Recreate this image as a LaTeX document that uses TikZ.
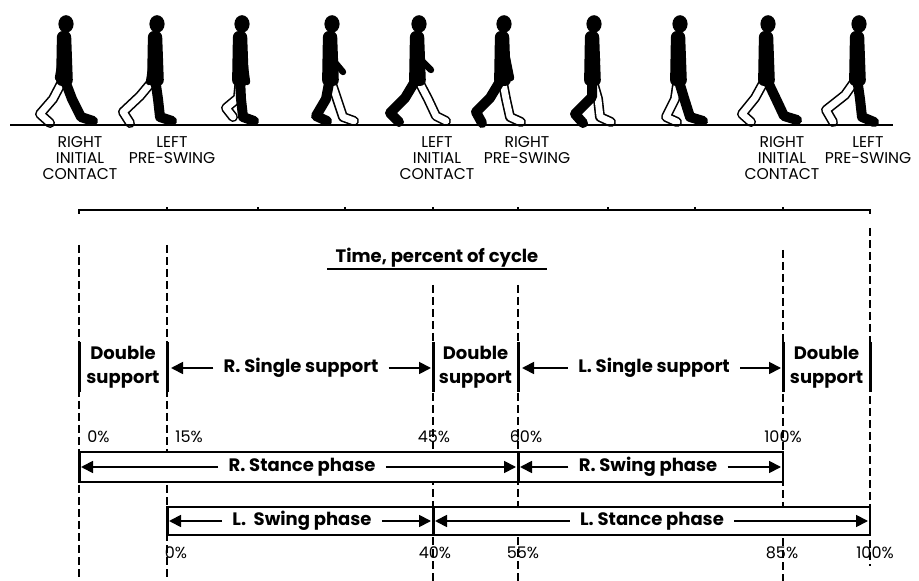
\documentclass[tikz,border=0pt]{standalone}
\usepackage{fontspec}
\setmainfont{Poppins}
\usetikzlibrary{arrows.meta}

\tikzset{
  leg/.style={line width=5pt, line cap=round, line join=round},
  vline/.style={dash pattern=on 4pt off 2pt, line width=0.7pt},
  wall/.style={line width=1.5pt},
  box/.style={draw, line width=0.9pt, fill=white},
  arr/.style={line width=0.9pt, -{Triangle[length=6pt,width=6pt]}},
  phase/.style={font=\bfseries\fontsize{9}{10}\selectfont, inner xsep=5pt, inner ysep=1pt},
  dsup/.style={font=\bfseries\fontsize{9}{12}\selectfont, align=center, inner sep=0pt},
  pct/.style={font=\fontsize{8}{9}\selectfont, inner sep=0pt},
  evt/.style={font=\fontsize{7.8}{8}\selectfont, align=center, anchor=north, inner sep=0pt}
}

% one walking figure: hip x, dark leg, light leg, arm
\newcommand\walker[4]{%
  \draw[leg] (#1,78) -- #3;
  \draw[leg, white, line width=3.4pt] (#1,78) -- #3;
  \fill (#1+2,24) ellipse [x radius=3.8pt, y radius=4.4pt];
  \fill[rounded corners=3pt] (#1-7,31) -- (#1+7,31) -- (#1+9,86) -- (#1-8,86) -- cycle;
  \draw[leg] (#1,78) -- #2;
  \draw[leg, line width=3.2pt] (#1+1,38) -- #4;
}

\begin{document}
\begin{tikzpicture}[x=0.5pt, y=-0.5pt]
  \fill[white] (0,0) rectangle (919,581);
  \useasboundingbox (0,0) rectangle (919,581);

  % walkers
  \walker{64}{(72,99) -- (81,117) -- (93,121)}{(53,99) -- (40,114) -- (50,123)}{(58,78)}
  \walker{155}{(158,99) -- (160,117) -- (172,121)}{(140,96) -- (123,112) -- (130,123)}{(149,82)}
  \walker{240}{(241,99) -- (243,117) -- (254,121)}{(238,98) -- (226,108) -- (233,117)}{(247,82)}
  \walker{330}{(326,99) -- (316,116) -- (327,121)}{(337,99) -- (343,117) -- (354,121)}{(333,60) -- (343,72)}
  \walker{417}{(405,98) -- (390,113) -- (399,122)}{(428,99) -- (436,116) -- (446,121)}{(421,60) -- (431,70)}
  \walker{502}{(490,98) -- (476,112) -- (482,123)}{(506,99) -- (510,117) -- (521,122)}{(511,78)}
  \walker{592}{(592,97) -- (575,114) -- (583,123)}{(598,99) -- (600,117) -- (611,122)}{(597,60) -- (593,76)}
  \walker{678}{(684,98) -- (690,117) -- (703,121)}{(675,99) -- (666,117) -- (677,122)}{(675,74)}
  \walker{766}{(776,99) -- (784,116) -- (797,120)}{(755,98) -- (742,114) -- (751,122)}{(762,80)}
  \walker{857}{(860,99) -- (862,117) -- (874,122)}{(845,95) -- (826,110) -- (833,122)}{(855,82)}

  \draw[line width=1pt] (10,125) -- (893,125);

  % events
  \node[evt] (ric1) at (80,136) {RIGHT\\INITIAL\\CONTACT};
  \node[evt] (lps1) at (172,136) {LEFT\\PRE-SWING};
  \node[evt] (lic) at (437,136) {LEFT\\INITIAL\\CONTACT};
  \node[evt] (rps) at (527,136) {RIGHT\\PRE-SWING};
  \node[evt] (ric2) at (782,136) {RIGHT\\INITIAL\\CONTACT};
  \node[evt] (lps2) at (868,136) {LEFT\\PRE-SWING};

  % cycle axis
  \draw[line width=0.8pt] (79,214) -- (79,210) -- (870,210) -- (870,214);
  \foreach \x in {167,258,345,433,518,608,695,783}
    \draw[line width=0.8pt] (\x,210) -- (\x,207);

  % time lines
  \draw[vline] (79,245) -- (79,581);
  \draw[vline] (167,245) -- (167,581);
  \draw[vline] (433,285) -- (433,581);
  \draw[vline] (518,285) -- (518,581);
  \draw[vline] (783,250) -- (783,581);
  \draw[vline] (870,228) -- (870,566);

  \node[font=\bfseries\fontsize{9}{10}\selectfont, inner xsep=4pt, inner ysep=0pt] (ttl) at (437,258) {Time, percent of cycle};
  \draw[line width=0.8pt] ([yshift=-3pt]ttl.base west) -- ([yshift=-3pt]ttl.base east);

  % support
  \foreach \x in {79,167,433,518,783,870}
    \draw[wall] (\x,342) -- (\x,392);
  \node[dsup] (ds1) at (123,367) {Double\\support};
  \node[dsup] (ds2) at (475.5,367) {Double\\support};
  \node[dsup] (ds3) at (826.5,367) {Double\\support};

  \node[phase] (rss) at (301,368) {R. Single support};
  \coordinate (rssL) at (171,368);
  \coordinate (rssR) at (431,368);
  \draw[arr] (rss) -- (rssL);
  \draw[arr] (rss) -- (rssR);

  \node[phase] (lss) at (654,368) {L. Single support};
  \coordinate (lssL) at (522,368);
  \coordinate (lssR) at (781,368);
  \draw[arr] (lss) -- (lssL);
  \draw[arr] (lss) -- (lssR);

  % percents
  \node[pct, anchor=west] (p0) at (87,437) {0\%};
  \node[pct, anchor=west] (p15) at (175,437) {15\%};
  \node[pct] (p45) at (434,437) {45\%};
  \node[pct] (p60) at (526,437) {60\%};
  \node[pct] (p100) at (783,437) {100\%};

  % phases
  \draw[box] (79,452) rectangle (518,482);
  \draw[box] (518,452) rectangle (783,482);
  \draw[box] (167,507) rectangle (433,535);
  \draw[box] (433,507) rectangle (870,535);
  \draw[wall] (79,452) -- (79,482);
  \draw[wall] (518,452) -- (518,482);
  \draw[wall] (167,507) -- (167,535);
  \draw[wall] (433,507) -- (433,535);

  \node[phase] (rst) at (302,467) {R. Stance phase};
  \coordinate (rstL) at (81,467);
  \coordinate (rstR) at (516,467);
  \draw[arr] (rst) -- (rstL);
  \draw[arr] (rst) -- (rstR);

  \node[phase] (rsw) at (648,467) {R. Swing phase};
  \coordinate (rswL) at (520,467);
  \coordinate (rswR) at (781,467);
  \draw[arr] (rsw) -- (rswL);
  \draw[arr] (rsw) -- (rswR);

  \node[phase] (lsw) at (302,521) {L.\ \ Swing phase};
  \coordinate (lswL) at (169,521);
  \coordinate (lswR) at (431,521);
  \draw[arr] (lsw) -- (lswL);
  \draw[arr] (lsw) -- (lswR);

  \node[phase] (lst) at (652,521) {L. Stance phase};
  \coordinate (lstL) at (435,521);
  \coordinate (lstR) at (868,521);
  \draw[arr] (lst) -- (lstL);
  \draw[arr] (lst) -- (lstR);

  \node[pct] (q0) at (176,553) {0\%};
  \node[pct] (q40) at (435,553) {40\%};
  \node[pct] (q55) at (523,553) {55\%};
  \node[pct] (q85) at (782,553) {85\%};
  \node[pct] (q100) at (875,553) {100\%};
\end{tikzpicture}
\end{document}
